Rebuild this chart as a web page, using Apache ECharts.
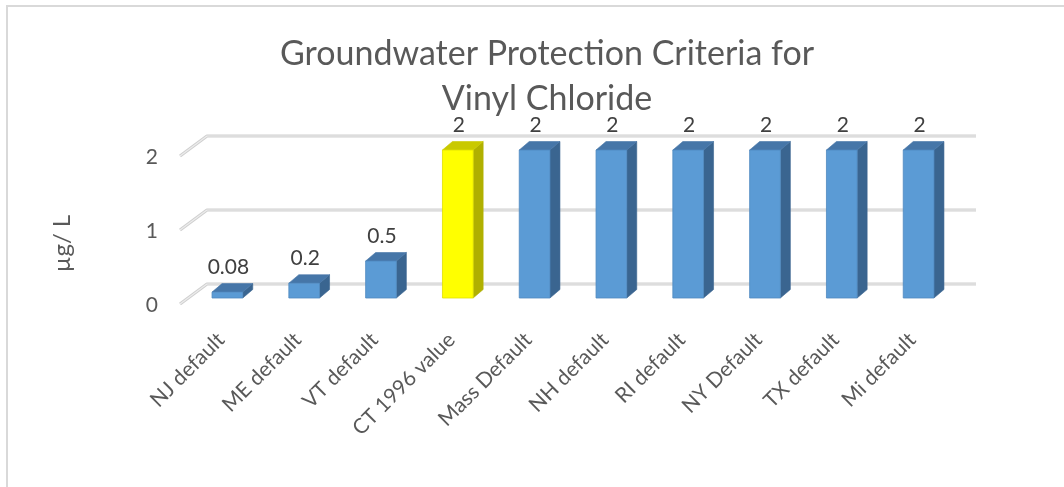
<!DOCTYPE html>
<html>
<head>
<meta charset="utf-8">
<style>
  html, body { margin: 0; padding: 0; background: #ffffff; }
  #chart { width: 1064px; height: 487px; }
</style>
<script src="https://cdn.jsdelivr.net/npm/echarts@6/dist/echarts.min.js"></script>
</head>
<body>
<div id="chart"></div>
<script>
// Groundwater protection criteria for vinyl chloride (µg/L), by state default
const categories = ['NJ default', 'ME default', 'VT default', 'CT 1996 value', 'Mass Default',
                    'NH default', 'RI default', 'NY Default', 'TX default', 'Mi default'];
const values = [0.08, 0.2, 0.5, 2, 2, 2, 2, 2, 2, 2];
const highlighted = ['CT 1996 value'];
const yTicks = [0, 1, 2];
const yTickLabels = ['0', '1', '2'];

const FONT = 'Lato, "Open Sans", sans-serif';
const TEXT = '#595959';

// 3D look: colors for front, top and side faces
const BLUE = { front: '#5b9bd5', top: '#4676a8', side: '#3a6590', edge: '#4f89bf' };
const YELLOW = { front: '#ffff00', top: '#c9c900', side: '#b0b000', edge: '#e0e000' };

// bar depth offset (pixels)
const DEPTH = [10, -8.5];

const chart = echarts.init(document.getElementById('chart'), null, { renderer: 'canvas' });

// back wall gridlines with the short floor diagonal on the left, plus tick labels
function renderWall(params, api) {
  const v = api.value(1);
  const idx = params.dataIndex;
  const cs = params.coordSys;
  const y = api.coord([0, v])[1];
  const gx = cs.x, gw = cs.width;
  const pts = [[gx - 9, y + 6], [gx + 18, y - 14], [gx + gw + 19, y - 14]];
  return {
    type: 'group',
    children: [
      { type: 'polyline', shape: { points: pts },
        style: { stroke: '#cfcfcf', lineWidth: 3.2, fill: null, lineJoin: 'round' } },
      { type: 'polyline', shape: { points: pts },
        style: { stroke: '#ececec', lineWidth: 1.2, fill: null, lineJoin: 'round' } },
      { type: 'text',
        style: { x: gx - 31, y: y + 7, text: yTickLabels[idx], align: 'right', verticalAlign: 'middle',
                 font: '21px ' + FONT, fill: TEXT } }
    ]
  };
}

// 3D column: side face, top face, front face and value label
function renderBar(params, api) {
  const ci = api.value(0);
  const v = api.value(1);
  const base = api.coord([ci, 0]);
  const topP = api.coord([ci, v]);
  const band = api.size([1, 0])[0];
  const bw = band * 0.4;
  const l = base[0] - bw / 2, r = base[0] + bw / 2;
  const t = topP[1], b = base[1];
  const dx = DEPTH[0], dy = DEPTH[1];
  const c = highlighted.indexOf(categories[ci]) >= 0 ? YELLOW : BLUE;
  return {
    type: 'group',
    children: [
      { type: 'polygon', shape: { points: [[r, t], [r + dx, t + dy], [r + dx, b + dy], [r, b]] },
        style: { fill: c.side, stroke: c.side, lineWidth: 0.6 } },
      { type: 'polygon', shape: { points: [[l, t], [r, t], [r + dx, t + dy], [l + dx, t + dy]] },
        style: { fill: c.top, stroke: c.top, lineWidth: 0.6 } },
      { type: 'rect', shape: { x: l, y: t, width: bw, height: b - t },
        style: { fill: c.front, stroke: c.edge, lineWidth: 0.8 } },
      { type: 'text',
        style: { x: base[0] + 1, y: t + dy - 6, text: String(v), align: 'center', verticalAlign: 'bottom',
                 font: '21px ' + FONT, fill: '#404040' } }
    ]
  };
}

chart.setOption({
  backgroundColor: '#ffffff',
  animation: false,
  title: {
    text: 'Groundwater Protection Criteria for\nVinyl Chloride',
    left: 542, top: 27, textAlign: 'center',
    textStyle: { fontFamily: FONT, fontSize: 34, fontWeight: 'normal', color: TEXT, lineHeight: 45 }
  },
  graphic: [
    { type: 'rect', z: -10, shape: { x: 7, y: 6, width: 1200, height: 700 },
      style: { fill: '#ffffff', stroke: '#d9d9d9', lineWidth: 2 } },
    { type: 'text', left: 50, top: 'middle', rotation: Math.PI / 2,
      style: { text: 'µg/ L', font: '24px ' + FONT, fill: TEXT } }
  ],
  grid: { left: 189, top: 150, width: 768, height: 148 },
  xAxis: {
    type: 'category',
    data: categories,
    axisLine: { show: false },
    axisTick: { show: false },
    axisLabel: { rotate: 45, margin: 32, interval: 0, padding: [0, 9, 0, 0],
                 fontFamily: FONT, fontSize: 21, color: TEXT }
  },
  yAxis: {
    type: 'value',
    min: 0, max: 2, interval: 1,
    axisLine: { show: false },
    axisTick: { show: false },
    axisLabel: { show: false },
    splitLine: { show: false }
  },
  series: [
    { type: 'custom', renderItem: renderWall, clip: false, z: 1,
      data: yTicks.map(v => [0, v]) },
    { type: 'custom', renderItem: renderBar, clip: false, z: 2,
      data: values.map((v, i) => [i, v]) }
  ]
});
</script>
</body>
</html>
